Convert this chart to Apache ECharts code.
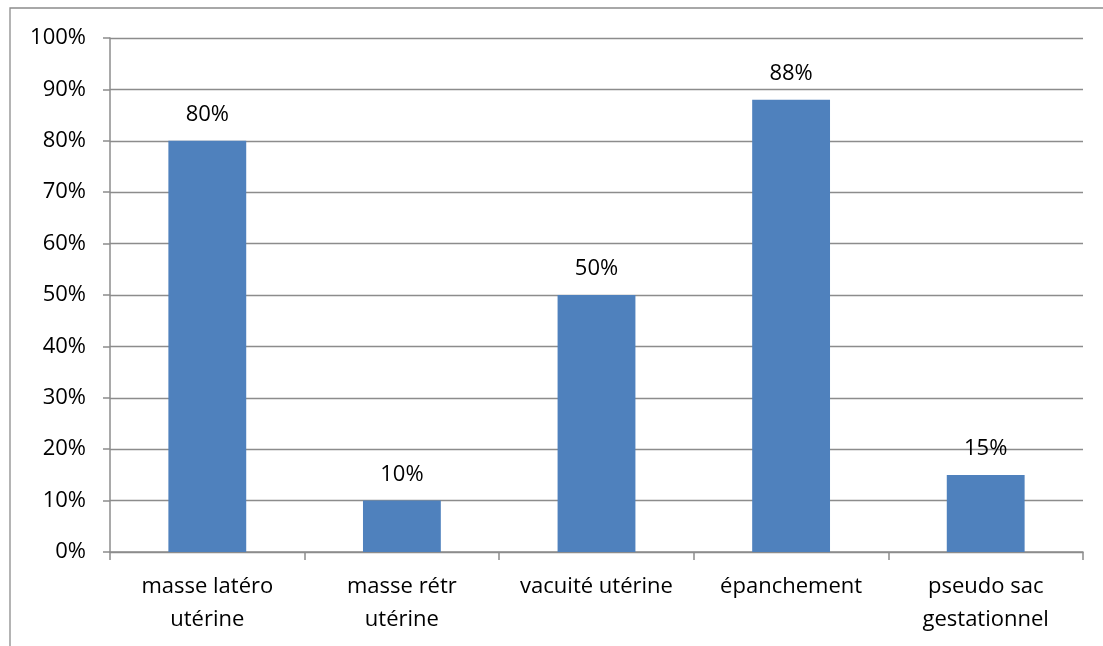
<!DOCTYPE html>
<html>
<head>
<meta charset="utf-8">
<script src="https://cdn.jsdelivr.net/npm/echarts@6/dist/echarts.min.js"></script>
<style>
  html, body { margin: 0; padding: 0; background: #fff; }
  #chart { width: 1103px; height: 646px; }
</style>
</head>
<body>
<div id="chart"></div>
<script>
// Signes échographiques observés (%)
const categories = ['masse latéro\nutérine', 'masse rétr\nutérine', 'vacuité utérine', 'épanchement', 'pseudo sac\ngestationnel'];
const values = [80, 10, 50, 88, 15];
const yTicks = { min: 0, max: 100, interval: 10 };

const FONT = '"Open Sans", "Noto Sans", sans-serif';
const chart = echarts.init(document.getElementById('chart'), null, { renderer: 'canvas' });

chart.setOption({
  animation: false,
  backgroundColor: '#fff',
  graphic: [{
    type: 'rect',
    shape: { x: 10, y: 8, width: 1110, height: 660 },
    style: { fill: 'none', stroke: '#8c8c8c', lineWidth: 1.3 },
    silent: true
  }],
  grid: { left: 110, right: 20, top: 38, bottom: 94 },
  xAxis: {
    type: 'category',
    data: categories,
    axisLine: { show: true, lineStyle: { color: '#8c8c8c', width: 1.5 } },
    axisTick: { show: true, length: 8, lineStyle: { color: '#8c8c8c', width: 1.5 } },
    axisLabel: { color: '#000', fontFamily: FONT, fontSize: 22, lineHeight: 33, margin: 18, interval: 0 }
  },
  yAxis: {
    type: 'value',
    min: yTicks.min, max: yTicks.max, interval: yTicks.interval,
    axisLine: { show: true, lineStyle: { color: '#8c8c8c', width: 1.5 } },
    axisTick: { show: true, length: 7, lineStyle: { color: '#8c8c8c', width: 1.5 } },
    splitLine: { show: true, lineStyle: { color: '#8c8c8c', width: 1.3 } },
    axisLabel: { color: '#000', fontFamily: FONT, fontSize: 22, margin: 24, formatter: '{value}%' }
  },
  series: [{
    type: 'bar',
    data: values,
    barWidth: '40%',
    itemStyle: { color: '#4F81BD' },
    label: {
      show: true,
      position: 'top',
      distance: 15,
      color: '#000',
      fontFamily: FONT,
      fontSize: 22,
      formatter: p => p.value + '%'
    }
  }]
});
</script>
</body>
</html>
